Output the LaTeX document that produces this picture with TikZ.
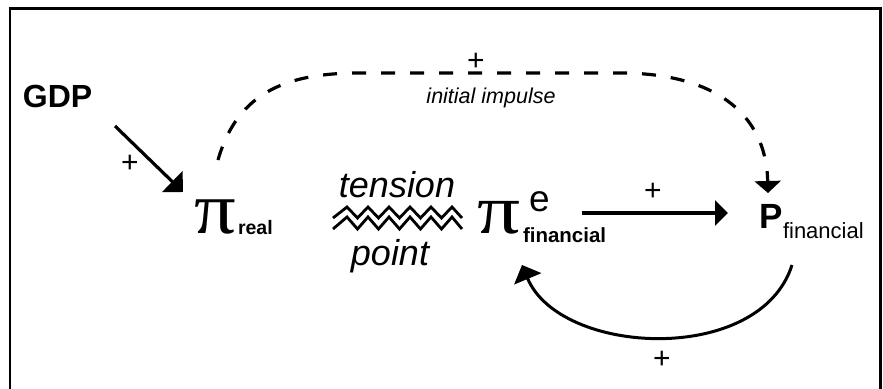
\documentclass[tikz,border=0pt]{standalone}
\usepackage{fontspec}
\setmainfont{Liberation Sans}
\newfontfamily\piserif{Liberation Serif}
\usetikzlibrary{arrows.meta}
\tikzset{
  lbl/.style={inner sep=0pt, outer sep=0pt},
  pluslbl/.style={lbl, font=\fontsize{30}{30}\selectfont},
  solidarr/.style={line width=3.2pt, -{Triangle[length=15pt,width=29pt]}},
  dasharr/.style={line width=3.2pt, dash pattern=on 14pt off 15pt, -{Triangle[length=12pt,width=26pt]}},
  frame/.style={line width=2.6pt},
  zig/.style={line width=2.8pt, line join=miter}
}
\begin{document}
\begin{tikzpicture}[x=1pt,y=-1pt]
\useasboundingbox (0,0) rectangle (883,388);
% frame
\draw[frame] (10,390) -- (10,8.7) -- (880.5,8.7) -- (880.5,390);

% nodes
\node[lbl, anchor=base west, font=\fontsize{32}{32}\selectfont\bfseries] (gdp) at (23,107) {GDP};
\node[lbl, anchor=base west, font=\fontsize{70}{70}\selectfont\piserif] (pireal) at (194,233) {\scalebox{1.18}[1.05]{π}};
\node[lbl, anchor=base west, font=\fontsize{19.5}{19.5}\selectfont\bfseries] (real) at (238,234) {real};

\node[lbl, anchor=base, font=\fontsize{36}{36}\selectfont\itshape] (tension) at (397,197) {tension};
\node[lbl, anchor=base, font=\fontsize{36}{36}\selectfont\itshape] (point) at (390,265) {point};

\node[lbl, anchor=base west, font=\fontsize{70}{70}\selectfont\piserif] (pifin) at (477,233) {\scalebox{1.22}[1.0]{π}};
\node[lbl, anchor=base west, font=\fontsize{37}{37}\selectfont] (e) at (529,211) {e};
\node[lbl, anchor=base west, font=\fontsize{20.5}{20.5}\selectfont\bfseries] (fin1) at (523,242) {financial};

\node[lbl, anchor=base west, font=\fontsize{35}{35}\selectfont\bfseries] (P) at (759,228) {P};
\node[lbl, anchor=base west, font=\fontsize{22}{22}\selectfont] (fin2) at (783,238) {financial};

\node[lbl, anchor=base, font=\fontsize{21.5}{21.5}\selectfont\itshape] (impulse) at (491,103) {initial impulse};

\node[pluslbl] (plusgdp) at (130,164) {+};
\node[pluslbl] (plustop) at (476,62) {+};
\node[pluslbl] (plusmid) at (653,192) {+};
\node[pluslbl] (plusbot) at (662,360) {+};

% zigzags (tension)
\draw[zig] (333,218) -- (347,207) -- (357.5,218) -- (368,207) -- (378.5,218) -- (389,207) -- (399.5,218) -- (410,207) -- (420.5,218) -- (431,207) -- (441.5,218) -- (452,207) -- (462,218);
\draw[zig] (333,229) -- (347,217) -- (357.5,229) -- (368,217) -- (378.5,229) -- (389,217) -- (399.5,229) -- (410,217) -- (420.5,229) -- (431,217) -- (441.5,229) -- (452,217) -- (462,229);

% connector end points
\coordinate (gdpS) at (115,126);
\coordinate (realT) at (183,192);
\coordinate (dashS) at (218,160);
\coordinate (dashA) at (360,73);
\coordinate (dashB) at (620,73);
\coordinate (PT) at (768,193);
\coordinate (hS) at (582,213);
\coordinate (hT) at (728,213);
\coordinate (loopS) at (792,265);
\coordinate (loopT) at (522,265);

% connectors
\draw[solidarr] (gdpS) -- (realT);
\draw[dasharr] (dashS) .. controls (238,90) and (290,73) .. (dashA) -- (dashB) .. controls (710,73) and (766,110) .. (PT);
\draw[solidarr, -{Triangle[length=13pt,width=25pt]}] (hS) -- (hT);
\draw[solidarr, line width=3pt] (loopS) .. controls (760,366) and (560,356) .. (loopT);
\end{tikzpicture}
\end{document}
